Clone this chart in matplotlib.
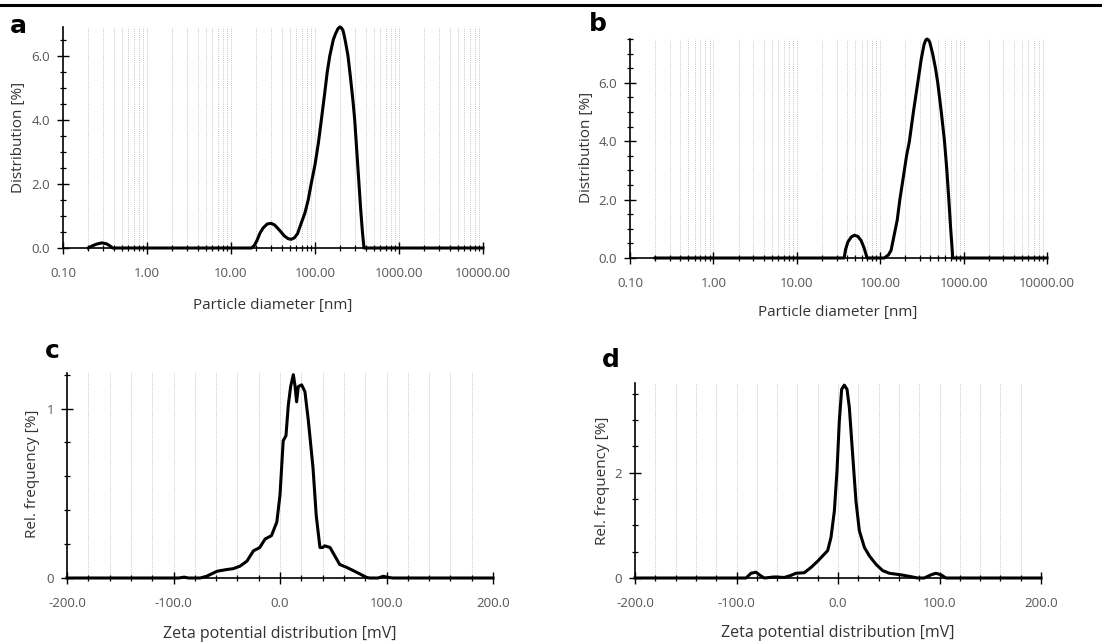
import numpy as np
import matplotlib.pyplot as plt
from matplotlib.lines import Line2D
from matplotlib.ticker import FixedLocator, MultipleLocator, NullFormatter

plt.rcParams['font.family'] = ['Open Sans', 'DejaVu Sans']

# --- Panel a: particle size distribution (nm, %)
a_size = [0.2, 0.22, 0.25, 0.29, 0.33, 0.36, 0.39, 17.5, 19, 20.5, 22, 24, 27, 30, 33,
          38, 43, 48, 52, 57, 62, 68, 76, 83, 90, 100, 110, 119, 130, 140, 150, 165,
          175, 187, 197, 205, 215, 222, 232, 247, 265, 283, 297, 315, 334, 350, 367,
          383, 10000]
a_dist = [0, 0.06, 0.12, 0.16, 0.13, 0.07, 0.0, 0, 0.08, 0.25, 0.45, 0.62, 0.75, 0.77, 0.72,
          0.55, 0.38, 0.29, 0.27, 0.32, 0.45, 0.75, 1.1, 1.5, 2.0, 2.6, 3.3, 4.0, 4.8, 5.5, 6.0, 6.5,
          6.68, 6.84, 6.9, 6.88, 6.8, 6.65, 6.4, 6.0, 5.3, 4.6, 4.0, 3.0, 2.0, 1.2, 0.5,
          0.0, 0]

# --- Panel b
b_size = [0.2, 37, 38.5, 41, 45, 49, 54, 59, 64, 68, 69.5, 112, 125, 135, 145, 160, 172,
          190, 207, 224, 250, 282, 310, 335, 350, 363, 378, 392, 425, 460, 490, 540, 590,
          630, 665, 700, 725, 740, 10000]
b_dist = [0, 0, 0.3, 0.55, 0.72, 0.78, 0.74, 0.6, 0.35, 0.1, 0, 0, 0.1, 0.26, 0.7, 1.3, 2.0,
          2.8, 3.5, 4.0, 5.0, 6.0, 6.8, 7.3, 7.45, 7.5, 7.47, 7.4, 7.0, 6.5, 6.0, 5.0, 4.0,
          3.0, 2.0, 1.0, 0.4, 0, 0]

# --- Panel c: zeta potential (mV, %)
c_zeta = [-200, -95, -90, -86, -75, -69, -59, -50, -44, -37.5, -31, -25, -19, -14, -8, -3, 0,
          3, 5.6, 7.8, 10, 12.5, 14, 15.6, 17.2, 20.3, 23.4, 26.6, 31, 34, 37.5, 40, 42, 47,
          51.5, 56, 62.5, 69, 75, 81, 84, 92, 97, 102, 106, 200]
c_freq = [0, 0, 0.005, 0, 0, 0.01, 0.04, 0.05, 0.055, 0.07, 0.1, 0.16, 0.18, 0.23, 0.25, 0.33, 0.49,
          0.81, 0.84, 1.02, 1.13, 1.2, 1.14, 1.04, 1.13, 1.14, 1.10, 0.93, 0.65, 0.37, 0.18, 0.18, 0.19, 0.18,
          0.13, 0.08, 0.063, 0.043, 0.024, 0.004, 0, 0, 0.01, 0.003, 0, 0]

# --- Panel d
d_zeta = [-200, -90.6, -85.7, -80.8, -76, -72.6, -62.7, -52.9, -46.3, -41.4, -33.2, -26.6, -20,
          -15.1, -10.2, -6.9, -3.6, -1, 1.3, 3.6, 6.2, 8.9, 11.2, 14.4, 17.7, 21, 26, 30.9, 37.4,
          44, 50.6, 62, 72, 78.5, 85, 91.6, 96.5, 101.5, 106.4, 200]
d_freq = [0, 0, 0.09, 0.11, 0.04, 0, 0.02, 0.01, 0.05, 0.09, 0.1, 0.2, 0.32,
          0.42, 0.52, 0.77, 1.27, 2.03, 2.98, 3.58, 3.66, 3.58, 3.23, 2.35, 1.46, 0.9, 0.58, 0.42, 0.26,
          0.14, 0.09, 0.06, 0.025, 0, 0, 0.06, 0.09, 0.06, 0, 0]

size_ticks = [0.1, 1, 10, 100, 1000, 10000]
size_labels = ['0.10', '1.00', '10.00', '100.00', '1000.00', '10000.00']
zeta_ticks = [-200, -100, 0, 100, 200]
zeta_labels = ['-200.0', '-100.0', '0.0', '100.0', '200.0']

W, H = 1102, 642
fig = plt.figure(figsize=(W / 100, H / 100), dpi=100)

def px_axes(l, t, r, b):
    return fig.add_axes([l / W, 1 - b / H, (r - l) / W, (b - t) / H])

TICK_C = '#555555'
LAB_C = '#333333'
GRID_KW = dict(color='#b5b5b5', lw=0.6, linestyle=(0, (1, 1.5)), zorder=0)

def style(ax):
    for s in ['top', 'right']:
        ax.spines[s].set_visible(False)
    for s in ['left', 'bottom']:
        ax.spines[s].set_linewidth(1.2)
    ax.tick_params(which='major', direction='inout', length=8, width=1.0,
                   labelsize=9.5, labelcolor=TICK_C)
    ax.tick_params(which='minor', direction='inout', length=5, width=0.9)
    ax.tick_params(axis='x', which='major', pad=10)
    ax.tick_params(axis='y', which='major', pad=5.5)

def size_panel(ax, x, y, ytop):
    ax.set_xscale('log')
    ax.set_xlim(0.1, 10000)
    ax.set_ylim(0, ytop)
    grid_x = [m * 10.0 ** e for e in range(-1, 4) for m in range(2, 11)]
    for g in grid_x:
        ax.axvline(g, **GRID_KW)
    ax.plot(x, y, color='black', lw=2.2, solid_joinstyle='round', zorder=3, clip_on=False)
    ax.xaxis.set_major_locator(FixedLocator(size_ticks))
    ax.set_xticklabels(size_labels)
    ax.xaxis.set_minor_locator(FixedLocator(grid_x))
    ax.xaxis.set_minor_formatter(NullFormatter())
    ax.yaxis.set_major_locator(MultipleLocator(2))
    ax.yaxis.set_minor_locator(MultipleLocator(0.5))
    ax.yaxis.set_major_formatter(plt.FuncFormatter(lambda v, p: f'{v:.1f}'))
    ax.set_xlabel('Particle diameter [nm]', fontsize=11, color=LAB_C)
    ax.set_ylabel('Distribution [%]', fontsize=11, color=LAB_C)
    style(ax)

def zeta_panel(ax, x, y, ytop, ymaj, ymin):
    ax.set_xlim(-200, 200)
    ax.set_ylim(0, ytop)
    for g in np.arange(-180, 201, 20):
        ax.axvline(g, **GRID_KW)
    ax.plot(x, y, color='black', lw=2.2, solid_joinstyle='round', zorder=3, clip_on=False)
    ax.xaxis.set_major_locator(FixedLocator(zeta_ticks))
    ax.set_xticklabels(zeta_labels)
    ax.xaxis.set_minor_locator(MultipleLocator(20))
    ax.yaxis.set_major_locator(MultipleLocator(ymaj))
    ax.yaxis.set_minor_locator(MultipleLocator(ymin))
    ax.yaxis.set_major_formatter(plt.FuncFormatter(lambda v, p: f'{v:.0f}'))
    ax.set_xlabel('Zeta potential distribution [mV]', fontsize=11.5, color=LAB_C)
    ax.set_ylabel('Rel. frequency [%]', fontsize=11, color=LAB_C)
    style(ax)

ax_a = px_axes(63, 27, 483, 248)
size_panel(ax_a, a_size, a_dist, 6.9)
ax_b = px_axes(630, 39, 1047, 258)
size_panel(ax_b, b_size, b_dist, 7.5)
ax_c = px_axes(67, 373, 493, 578)
zeta_panel(ax_c, c_zeta, c_freq, 1.21, 1, 0.2)
ax_d = px_axes(635, 383, 1041, 578)
zeta_panel(ax_d, d_zeta, d_freq, 3.70, 2, 0.5)

# label placement (axes fractions)
label_pos = {
    ax_a: ((0.5, -0.258), (-0.107, 0.502)),
    ax_b: ((0.499, -0.251), (-0.1055, 0.507)),
    ax_c: ((0.5, -0.273), (-0.080, 0.507)),
    ax_d: ((0.5, -0.282), (-0.081, 0.497)),
}
for ax, (xl, yl) in label_pos.items():
    ax.xaxis.label.set_va('center')
    ax.xaxis.set_label_coords(*xl)
    ax.yaxis.label.set_va('center')
    ax.yaxis.set_label_coords(*yl)

for letter, (px, py) in {'a': (18, 26), 'b': (598, 24), 'c': (52, 351), 'd': (611, 360)}.items():
    fig.text(px / W, 1 - py / H, letter, fontsize=18, fontweight='bold',
             ha='center', va='center', family='DejaVu Sans')

fig.add_artist(Line2D([0, 1], [1 - 5 / H, 1 - 5 / H], color='black', lw=2.2,
                      transform=fig.transFigure))

fig.savefig('out.png', dpi=100)
